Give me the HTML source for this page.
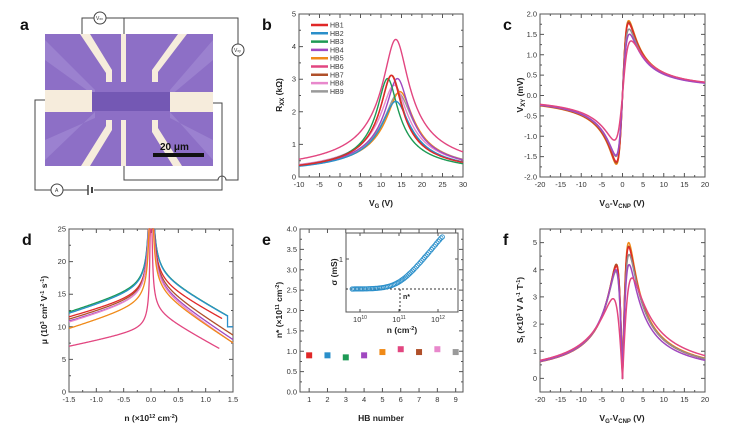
<!DOCTYPE html>
<html><head><meta charset="utf-8"><style>
html,body{margin:0;padding:0;background:#fff;}
svg{display:block;font-family:"Liberation Sans",Arial,sans-serif;}
.t{font-size:7.5px;fill:#333;}
.lab{font-size:8.5px;font-weight:bold;fill:#222;}
.pl{font-size:16px;font-weight:bold;fill:#111;}
</style></head><body>
<svg id="s" width="745" height="436" viewBox="0 0 745 436" xmlns="http://www.w3.org/2000/svg">
<!-- panel a -->
<text class="pl" x="20" y="30">a</text>
<g stroke="#444" stroke-width="1" fill="none">
<path d="M82 34 V18 H94 M106 18 H238 V44 M124 18 V34 M238 56 V180 H226 A4 4 0 0 0 218 180 H124 V166"/>
<path d="M45 100 H35 V190 H51 M63 190 H88 M94 190 H222 V103 H213"/>
<path d="M88 185 V195" stroke-width="1.5"/><path d="M92 187 V193" stroke-width="2"/>
</g>
<g fill="#fff" stroke="#444"><circle cx="100" cy="18" r="6"/><circle cx="238" cy="50" r="6"/><circle cx="57" cy="190" r="6"/></g>
<g font-size="5" fill="#333"><text x="96" y="20">V<tspan font-size="3.5">xx</tspan></text><text x="234" y="52">V<tspan font-size="3.5">xy</tspan></text><text x="55" y="192">A</text></g>
<rect x="45" y="34" width="168" height="132" fill="#8d6fc6"/>
<g fill="#9f86d2" opacity="0.8">
<polygon points="45,40 95,90 95,96 45,60"/><polygon points="213,40 170,90 170,96 213,60"/>
<polygon points="45,160 95,112 95,118 45,140"/><polygon points="213,160 170,112 170,118 213,140"/>
</g>
<rect x="92" y="92" width="80" height="19" fill="#7458b4"/>
<g fill="#f6ecdc">
<rect x="45" y="90" width="47" height="22"/><rect x="170" y="92" width="43" height="20"/>
<polygon points="80,34 90,34 112,70 112,82 106,82 106,73"/>
<rect x="121" y="34" width="5" height="48"/>
<polygon points="178,34 187,34 158,72 158,82 152,82 152,70"/>
<polygon points="106,120 112,120 112,130 90,166 81,166 106,126"/>
<rect x="121" y="120" width="5" height="46"/>
<polygon points="152,120 158,120 158,128 182,166 173,166 152,132"/>
</g>
<rect x="153" y="153" width="51" height="4" fill="#111"/>
<text x="160" y="150" font-size="10" font-weight="bold" fill="#111">20 μm</text>
<g id="plots"></g>
</svg>
<script>
const NS="http://www.w3.org/2000/svg";
const G=document.getElementById('plots');
let html='';
function ax(o){ // o: x0,x1,y0,y1 px; xmin,xmax,ymin,ymax
  return {X:v=>o.x0+(v-o.xmin)/(o.xmax-o.xmin)*(o.x1-o.x0),Y:v=>o.y1-(v-o.ymin)/(o.ymax-o.ymin)*(o.y1-o.y0),o};
}
function frame(A,xt,yt,xfmt,yfmt,minorX,minorY){
  const o=A.o;let s=`<rect x="${o.x0}" y="${o.y0}" width="${o.x1-o.x0}" height="${o.y1-o.y0}" fill="none" stroke="#555" stroke-width="1"/>`;
  xt.forEach(v=>{const x=A.X(v);s+=`<path d="M${x} ${o.y1}v-4M${x} ${o.y0}v4" stroke="#555"/><text class="t" x="${x}" y="${o.y1+10}" text-anchor="middle">${xfmt(v)}</text>`;});
  yt.forEach(v=>{const y=A.Y(v);s+=`<path d="M${o.x0} ${y}h4M${o.x1} ${y}h-4" stroke="#555"/><text class="t" x="${o.x0-3}" y="${y+2.5}" text-anchor="end">${yfmt(v)}</text>`;});
  (minorX||[]).forEach(v=>{const x=A.X(v);s+=`<path d="M${x} ${o.y1}v-2M${x} ${o.y0}v2" stroke="#555"/>`;});
  (minorY||[]).forEach(v=>{const y=A.Y(v);s+=`<path d="M${o.x0} ${y}h2M${o.x1} ${y}h-2" stroke="#555"/>`;});
  return s;
}
function rng(a,b,st){const r=[];for(let v=a;v<=b+1e-9;v+=st)r.push(+v.toFixed(6));return r;}
function path(A,f,a,b,n,col,w){let d='';for(let i=0;i<=n;i++){const v=a+(b-a)*i/n;let y=f(v);const o=A.o;let py=A.Y(y);py=Math.max(o.y0,Math.min(o.y1,py));d+=(i?'L':'M')+A.X(v).toFixed(2)+' '+py.toFixed(2);}
  return `<path d="${d}" fill="none" stroke="${col}" stroke-width="${w||1.3}" stroke-linejoin="round"/>`;}
const C=['#e02828','#2a8fca','#1d9a55','#a048c0','#f08a18','#e24680','#b0502a','#e888cc','#9a9a9a'];
// b
let B=ax({x0:299,x1:463,y0:14,y1:177,xmin:-10,xmax:30,ymin:0,ymax:5});
html+='<text class="pl" x="262" y="30">b</text>';
html+=frame(B,rng(-10,30,5),rng(0,5,1),v=>v,v=>v,rng(-7.5,27.5,5),rng(0.5,4.5,1));
const bp=[[12.5,3.1,7.6],[13.6,2.3,7.4],[11.6,3.0,7.2],[14,3.0,8.2],[14.6,2.6,8],[13.6,4.2,12.5],[12.6,3.1,7.8],[13.2,2.8,8.5],[14.2,2.55,8.4]];
[8,7,6,4,3,2,1,0,5].forEach(i=>{const [v0,rp,k]=bp[i];html+=path(B,v=>1/Math.sqrt(1/(rp*rp)+((v-v0)/k)**2)+0.02,-10,30,300,C[i],1.4);});
['HB1','HB2','HB3','HB4','HB5','HB6','HB7','HB8','HB9'].forEach((t,i)=>{const y=25+i*8.3;html+=`<path d="M311 ${y}h17" stroke="${C[i]}" stroke-width="2.5"/><text x="330" y="${y+2.5}" font-size="7" fill="#333">${t}</text>`;});
html+=`<text class="lab" transform="translate(282 95) rotate(-90)" text-anchor="middle">R<tspan font-size="6" dy="2">XX</tspan><tspan dy="-2"> (kΩ)</tspan></text>`;
html+=`<text class="lab" x="381" y="206" text-anchor="middle">V<tspan font-size="6" dy="2">G</tspan><tspan dy="-2"> (V)</tspan></text>`;
// c
let Cc=ax({x0:540,x1:705,y0:14,y1:177,xmin:-20,xmax:20,ymin:-2,ymax:2});
html+='<text class="pl" x="503" y="30">c</text>';
html+=frame(Cc,rng(-20,20,5),rng(-2,2,0.5),v=>v,v=>v.toFixed(1),rng(-17.5,17.5,5),rng(-1.75,1.75,0.5));
const cp=[[1.5,5.5,1.5,'#f08a18'],[1.5,5.4,1.5,'#b0502a'],[1.5,5.3,1.5,'#e02828'],[1.6,5.2,1.6,'#909090'],[1.7,5.1,1.6,'#a048c0'],[2.1,5.6,2.0,'#e24680']];
cp.forEach(([d,A,dn,col])=>{html+=path(Cc,x=>{const a=x>0?A:A*0.92*(col=='#e24680'?0.85:1);const dd=x>0?d:dn;return a*x/(x*x+dd*dd)+0.05*(x>0?1:0)*(x/20);},-20,20,400,col,1.5);});
html+=`<text class="lab" transform="translate(523 95) rotate(-90)" text-anchor="middle">V<tspan font-size="6" dy="2">XY</tspan><tspan dy="-2"> (mV)</tspan></text>`;
html+=`<text class="lab" x="622" y="206" text-anchor="middle">V<tspan font-size="6" dy="2">G</tspan><tspan dy="-2">-V</tspan><tspan font-size="6" dy="2">CNP</tspan><tspan dy="-2"> (V)</tspan></text>`;
// d
let D=ax({x0:69,x1:233,y0:229,y1:392,xmin:-1.5,xmax:1.5,ymin:0,ymax:25});
html+='<text class="pl" x="22" y="245">d</text>';
html+=frame(D,rng(-1.5,1.5,0.5),rng(0,25,5),v=>v.toFixed(1),v=>v,rng(-1.25,1.25,0.5),rng(2.5,22.5,5));
// [aL,sL,aR,sR,c,endR,col]
const dp=[[15.7,2.5,17.7,4.55,0.5,1.4,'#1d9a55'],[15.5,2.5,17.6,4.5,0.5,1.4,'#2a8fca'],[14.5,2.2,16.6,4.4,0.5,1.3,'#e02828'],[14.3,2.3,16.2,5.2,0.5,1.5,'#b0502a'],[14,2.3,15.8,5.4,0.5,1.5,'#a048c0'],[14,2.4,15.6,5.6,0.5,1.5,'#e888cc'],[13.2,2.5,15.2,5.3,0.45,1.5,'#f08a18'],[9.4,1.7,12.1,4.5,0.25,1.25,'#e24680']];
dp.forEach(([aL,sL,aR,sR,c,eR,col])=>{html+=path(D,n=>{const m=Math.abs(n);return (n<0?aL-sL*m:aR-sR*m)+c/Math.max(m,0.005);},-1.5,-0.01,200,col,1.3);
 html+=path(D,n=>{const m=Math.abs(n);return (n<0?aL-sL*m:aR-sR*m)+c/Math.max(m,0.005);},0.01,eR,200,col,1.3);});
html+=`<path d="M${D.X(1.4)} ${D.Y(11.8)}V${D.Y(10)}H${D.X(1.5)}" stroke="#2a8fca" fill="none" stroke-width="1.3"/>`;
html+=`<text class="lab" transform="translate(47 310) rotate(-90)" text-anchor="middle">μ (10<tspan font-size="5.5" dy="-3">3</tspan><tspan dy="3"> cm</tspan><tspan font-size="5.5" dy="-3">2</tspan><tspan dy="3"> V</tspan><tspan font-size="5.5" dy="-3">-1</tspan><tspan dy="3"> s</tspan><tspan font-size="5.5" dy="-3">-1</tspan><tspan dy="3">)</tspan></text>`;
html+=`<text class="lab" x="151" y="421" text-anchor="middle">n (×10<tspan font-size="5.5" dy="-3">12</tspan><tspan dy="3"> cm</tspan><tspan font-size="5.5" dy="-3">-2</tspan><tspan dy="3">)</tspan></text>`;
// e
let E=ax({x0:300,x1:463,y0:229,y1:392,xmin:0.5,xmax:9.4,ymin:0,ymax:4});
html+='<text class="pl" x="262" y="245">e</text>';
html+=frame(E,rng(1,9,1),rng(0,4,0.5),v=>v,v=>v.toFixed(1),[],rng(0.25,3.75,0.5));
[0.9,0.9,0.85,0.9,0.98,1.05,0.98,1.05,0.98].forEach((v,i)=>{html+=`<rect x="${E.X(i+1)-3}" y="${E.Y(v)-3}" width="6" height="6" fill="${C[i]}"/>`;});
html+=`<rect x="346" y="233" width="112" height="79" fill="#fff" stroke="#555"/>`;
const LX=e=>360+(e-10)*39;
[10,11,12].forEach(e=>{html+=`<path d="M${LX(e)} 312v-3M${LX(e)} 233v3" stroke="#555"/><text class="t" x="${LX(e)}" y="322" text-anchor="middle">10<tspan font-size="5" dy="-3">${e}</tspan></text>`;});
html+=`<path d="M346 259h3M458 259h-3" stroke="#555"/><text class="t" x="343" y="262" text-anchor="end">1</text>`;
html+=`<path d="M346 289H458M400 289V312" stroke="#333" stroke-dasharray="2 2" fill="none"/><text x="403" y="299" font-size="7" font-weight="bold" fill="#222">n*</text>`;
let ins='';for(let e=9.8;e<=12.14;e+=0.035){const x=LX(e);const y=289-40*Math.log10(Math.pow(10,1.2*Math.max(0,0)+0)+0)-0;const t=Math.pow(10,e-11);const yy=289-52*Math.log10(Math.sqrt(1+t*t*1.0))/1.1;ins+=`<circle cx="${x.toFixed(1)}" cy="${Math.max(237,yy).toFixed(1)}" r="2.2" fill="none" stroke="#2a8fca" stroke-width="0.8"/>`;}
html+=ins;
html+=`<text class="lab" transform="translate(337 272) rotate(-90)" text-anchor="middle">σ (mS)</text>`;
html+=`<text class="lab" x="402" y="333" text-anchor="middle">n (cm<tspan font-size="5.5" dy="-3">-2</tspan><tspan dy="3">)</tspan></text>`;
html+=`<text class="lab" transform="translate(282 310) rotate(-90)" text-anchor="middle">n* (×10<tspan font-size="5.5" dy="-3">11</tspan><tspan dy="3"> cm</tspan><tspan font-size="5.5" dy="-3">-2</tspan><tspan dy="3">)</tspan></text>`;
html+=`<text class="lab" x="381" y="421" text-anchor="middle">HB number</text>`;
// f
let F=ax({x0:540,x1:705,y0:229,y1:392,xmin:-20,xmax:20,ymin:-0.5,ymax:5.5});
html+='<text class="pl" x="503" y="245">f</text>';
html+=frame(F,rng(-20,20,5),rng(0,5,1),v=>v,v=>v,rng(-17.5,17.5,5),rng(0.5,4.5,1));
const fp=[[1.5,15,12.6,1.5,'#f08a18'],[1.5,14.6,12.6,1.5,'#b0502a'],[1.5,14.5,12.4,1.5,'#e02828'],[1.6,14.6,12.6,1.6,'#909090'],[1.6,13.4,12.8,1.6,'#a048c0'],[2.3,17,13.5,2.3,'#e24680']];
fp.forEach(([d,Ar,Al,dl,col])=>{html+=path(F,x=>{const A=x>0?Ar:Al;const dd=x>0?d:dl;return A*Math.abs(x)/(x*x+dd*dd);},-20,20,400,col,1.5);});
html+=`<text class="lab" transform="translate(523 310) rotate(-90)" text-anchor="middle">S<tspan font-size="5.5" dy="2">I</tspan><tspan dy="-2"> (×10</tspan><tspan font-size="5.5" dy="-3">3</tspan><tspan dy="3"> V A</tspan><tspan font-size="5.5" dy="-3">-1</tspan><tspan dy="3"> T</tspan><tspan font-size="5.5" dy="-3">-1</tspan><tspan dy="3">)</tspan></text>`;
html+=`<text class="lab" x="622" y="421" text-anchor="middle">V<tspan font-size="6" dy="2">G</tspan><tspan dy="-2">-V</tspan><tspan font-size="6" dy="2">CNP</tspan><tspan dy="-2"> (V)</tspan></text>`;
G.innerHTML=html;
</script>
</body></html>
